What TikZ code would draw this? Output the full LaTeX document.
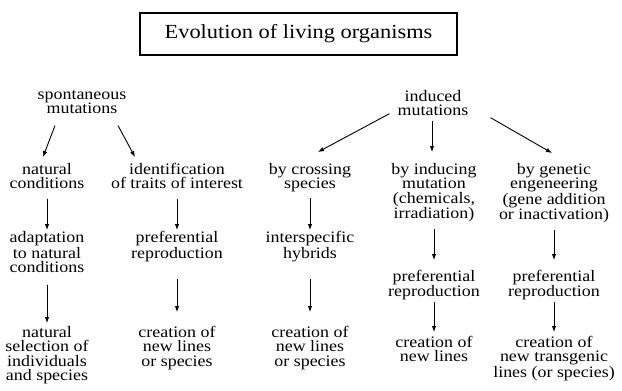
\documentclass[tikz,border=0pt]{standalone}
\usepackage{fontspec}
\setmainfont{Liberation Serif}
\newfontfamily\orgfont{Liberation Serif}[FakeStretch=1.12]
\usepackage{tikz}
\usetikzlibrary{arrows.meta}
\begin{document}
\begin{tikzpicture}[x=1pt,y=-1pt,
  box/.style={anchor=north, inner sep=0pt, align=center, font=\orgfont\fontsize{16}{14.5}\selectfont},
  arr/.style={-{Latex[length=6pt,width=4.5pt]}, line width=0.9pt}]
\useasboundingbox (0,0) rectangle (622,391);

\node[draw, line width=1.2pt, minimum width=317pt, minimum height=42pt,
      font=\orgfont\fontsize{20}{24}\selectfont] (t) at (298.5,34) {Evolution of living organisms};

\node[box] (s0) at (82,90) {spontaneous\\mutations};
\node[box] (i0) at (433,90) {induced\\mutations};

\node[box] (11) at (47,163) {natural\\conditions};
\node[box] (21) at (177,163) {identification\\of traits of interest};
\node[box] (31) at (310,163) {by crossing\\species};
\node[box] (41) at (434,163) {by inducing\\mutation\\(chemicals,\\irradiation)};
\node[box] (51) at (554,163) {by genetic\\engeneering\\(gene addition\\or inactivation)};

\node[box] (12) at (47,231.5) {adaptation\\to natural\\conditions};
\node[box] (22) at (177,231.5) {preferential\\reproduction};
\node[box] (32) at (310,231.5) {interspecific\\hybrids};
\node[box] (42) at (434,270) {preferential\\reproduction};
\node[box] (52) at (554,270) {preferential\\reproduction};

\node[box] (13) at (47,326) {natural\\selection of\\individuals\\and species};
\node[box] (23) at (177,326) {creation of\\new lines\\or species};
\node[box] (33) at (310,326) {creation of\\new lines\\or species};
\node[box] (43) at (434,336) {creation of\\new lines};
\node[box] (53) at (554,336) {creation of\\new transgenic\\lines (or species)};

% branches
\draw[arr] ([xshift=-27pt,yshift=-11.5pt]s0.south) -- ([xshift=-4pt,yshift=6pt]11.north);
\draw[arr] ([xshift=36pt,yshift=-11.5pt]s0.south) -- ([xshift=-42pt,yshift=6pt]21.north);
\draw[arr] ([xshift=-8pt,yshift=2.5pt]i0.south west) -- ([xshift=8pt,yshift=11pt]31.north);
\draw[arr] ([xshift=-1pt,yshift=-4.5pt]i0.south) -- ([xshift=-2pt,yshift=11pt]41.north);
\draw[arr] ([xshift=22pt,yshift=-1.5pt]i0.south east) -- ([xshift=-2pt,yshift=10pt]51.north);

\path[arr] (11) edge[shorten <=9.5pt, shorten >=1.5pt] (12)
           (21) edge[shorten <=9.5pt, shorten >=1.5pt] (22)
           (31) edge[shorten <=6pt, shorten >=1.5pt] (32)
           (41) edge[shorten <=6.7pt, shorten >=10pt] (42)
           (51) edge[shorten <=6.7pt, shorten >=10pt] (52);
\path[arr] (12) edge[shorten <=11.5pt, shorten >=3pt] (13)
           (22) edge[shorten <=16.5pt, shorten >=14pt] (23)
           (32) edge[shorten <=16.5pt, shorten >=14pt] (33)
           (42) edge[shorten <=1pt, shorten >=4pt] (43)
           (52) edge[shorten <=1pt, shorten >=4pt] (53);
\end{tikzpicture}
\end{document}
